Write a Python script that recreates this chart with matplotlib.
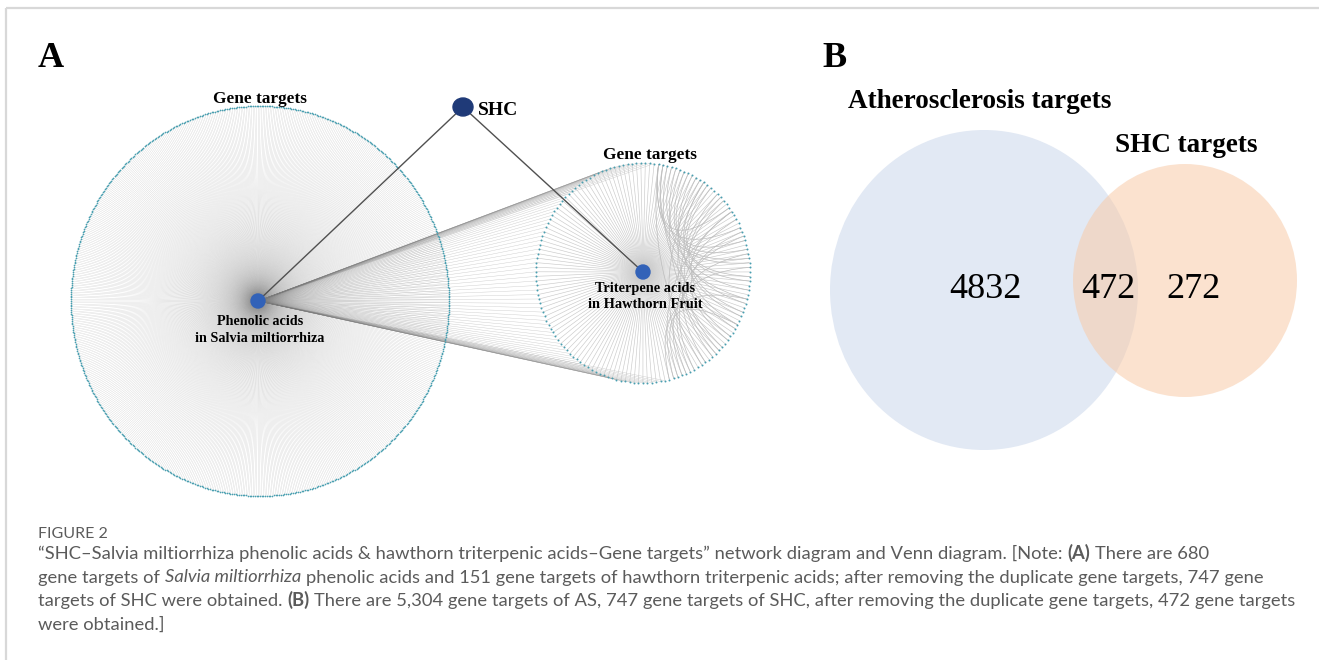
import numpy as np
import matplotlib.pyplot as plt
from matplotlib.collections import LineCollection, PathCollection
from matplotlib.patches import Ellipse
from matplotlib.path import Path

# target counts
n_phenolic = 680      # Salvia miltiorrhiza phenolic acids
n_triterpene = 151    # hawthorn triterpenic acids
n_shc = 747           # SHC targets after removing duplicates
n_as = 5304           # atherosclerosis targets
n_common = 472        # AS / SHC intersection

# Venn region labels (AS only, both, SHC only)
venn_counts = [4832, 472, 272]
venn_titles = ["Atherosclerosis targets", "SHC targets"]

# curved target-target edges on the hawthorn ring (indices of its targets)
ring_edges = [(85, 130), (88, 140), (90, 120), (92, 150), (95, 135), (98, 145),
              (100, 125), (103, 148), (106, 138), (84, 110), (109, 142),
              (112, 146), (115, 137), (118, 150), (121, 144), (87, 117),
              (93, 128), (97, 133), (101, 141), (104, 130), (110, 149),
              (114, 139), (119, 147), (123, 143), (126, 150), (89, 124),
              (96, 139), (107, 134), (86, 104), (131, 149)]

W, H = 1319, 660
fig = plt.figure(figsize=(W / 100, H / 100), dpi=100)
ax = fig.add_axes([0, 0, 1, 1])
ax.set_xlim(0, W)
ax.set_ylim(H, 0)
ax.axis('off')

serif = 'Liberation Serif'


def ring(cx, cy, rx, ry, n, start):
    a = np.deg2rad(start + 360.0 * np.arange(n) / n)
    return np.column_stack([cx + rx * np.cos(a), cy - ry * np.sin(a)])


# panel frame (top and left rule)
ax.plot([6, W], [7.5, 7.5], color='#d8d8d8', lw=1.6, solid_capstyle='butt')
ax.plot([6, 6], [7.5, H], color='#d8d8d8', lw=1.6, solid_capstyle='butt')

# ---- A: network ----
phen = np.array([258.0, 301.0])
trit = np.array([643.0, 272.0])
shc = np.array([463.0, 107.0])

big = ring(260, 301, 189, 195, n_phenolic, -90)
small = ring(643, 273, 107, 110, n_triterpene, 84)
n_shared = n_phenolic + n_triterpene - n_shc

# phenolic acids -> its own targets
ax.add_collection(LineCollection([[phen, p] for p in big],
                                 colors='#8c8c8c', linewidths=0.22, alpha=0.45, zorder=1))
# phenolic acids -> targets shared with hawthorn
ax.add_collection(LineCollection([[phen, p] for p in small[:n_shared]],
                                 colors='#7a7a7a', linewidths=0.3, alpha=0.4, zorder=1))
# triterpene acids -> targets
ax.add_collection(LineCollection([[trit, p] for p in small],
                                 colors='#cacaca', linewidths=0.45, zorder=1))

# curved edges between hawthorn targets
c0 = np.array([643.0, 273.0])
curves = []
for i, j in ring_edges:
    a, b = small[i], small[j]
    ctrl = c0 + 0.05 * ((a + b) / 2 - c0)
    curves.append(Path([a, ctrl, b], [Path.MOVETO, Path.CURVE3, Path.CURVE3]))
ax.add_collection(PathCollection(curves, facecolors='none', edgecolors='#bdbdbd',
                                 linewidths=0.5, zorder=1))

# gene target nodes
ax.scatter(big[:, 0], big[:, 1], s=1.5, color='#4a9fb0', linewidths=0, zorder=2)
ax.scatter(small[:, 0], small[:, 1], s=2.0, color='#4a9fb0', linewidths=0, zorder=2)

# SHC edges
ax.plot([shc[0], phen[0]], [shc[1], phen[1]], color='#505050', lw=1.0, zorder=3)
ax.plot([shc[0], trit[0]], [shc[1], trit[1]], color='#505050', lw=1.0, zorder=3)

ax.add_patch(Ellipse(shc, 20, 18, color='#1f3a78', zorder=4))
ax.add_patch(Ellipse(phen, 14, 14, color='#3262b8', zorder=4))
ax.add_patch(Ellipse(trit, 14, 14, color='#3262b8', zorder=4))

ax.text(38, 67, 'A', fontsize=26, fontweight='bold', family=serif, va='baseline')
ax.text(260, 103, 'Gene targets', fontsize=12.4, fontweight='bold', family=serif,
        ha='center', va='baseline')
ax.text(650, 159, 'Gene targets', fontsize=12.4, fontweight='bold', family=serif,
        ha='center', va='baseline')
ax.text(478, 115, 'SHC', fontsize=14, fontweight='bold', family=serif, va='baseline')
ax.text(260, 325, 'Phenolic acids', fontsize=10.2, fontweight='bold', family=serif,
        ha='center', va='baseline')
ax.text(260, 342, 'in Salvia miltiorrhiza', fontsize=10.2, fontweight='bold', family=serif,
        ha='center', va='baseline')
ax.text(645, 292, 'Triterpene acids', fontsize=10.4, fontweight='bold', family=serif,
        ha='center', va='baseline')
ax.text(645, 308, 'in Hawthorn Fruit', fontsize=10.4, fontweight='bold', family=serif,
        ha='center', va='baseline')

# ---- B: Venn diagram ----
ax.add_patch(Ellipse((984, 290), 308, 320, facecolor='#e2e9f4', edgecolor='none', zorder=1))
ax.add_patch(Ellipse((1185, 280.5), 224, 233, facecolor='#f8cba9', edgecolor='none',
                     alpha=0.55, zorder=2))

ax.text(822, 67, 'B', fontsize=26, fontweight='bold', family=serif, va='baseline')
ax.text(980, 108, venn_titles[0], fontsize=19.5, fontweight='bold', family=serif,
        ha='center', va='baseline')
ax.text(1186, 152, venn_titles[1], fontsize=19.5, fontweight='bold', family=serif,
        ha='center', va='baseline')
for x, v in zip([985, 1108, 1194], venn_counts):
    ax.text(x, 298, str(v), fontsize=26, family=serif, ha='center', va='baseline', zorder=3)

# ---- caption ----
cap = dict(family='Lato', color='#5b5b5b', fontsize=13.2)
styles = {'r': {}, 'b': {'fontweight': 'bold'}, 'i': {'style': 'italic'}}
renderer = fig.canvas.get_renderer()


def width(s, st):
    t = ax.text(0, 0, s, **cap, **styles[st])
    w = t.get_window_extent(renderer=renderer).width
    t.remove()
    return w


def runs_line(x, y, runs):
    sp = width('x x', 'r') - width('xx', 'r')
    for k, (s, st) in enumerate(runs):
        ax.text(x, y, s, va='baseline', ha='left', **cap, **styles[st])
        x += width(s, st) + (sp if k < len(runs) - 1 else 0)


ax.text(38, 538, 'FIGURE 2', family='Lato', color='#5b5b5b', fontsize=11.5,
        va='baseline')
runs_line(38, 559, [
    ('\u201cSHC\u2013Salvia miltiorrhiza phenolic acids & hawthorn triterpenic acids\u2013Gene '
     'targets\u201d network diagram and Venn diagram. [Note:', 'r'),
    ('(A)', 'b'), (f'There are {n_phenolic}', 'r')])
runs_line(38, 582.5, [
    ('gene targets of', 'r'), ('Salvia miltiorrhiza', 'i'),
    (f'phenolic acids and {n_triterpene} gene targets of hawthorn triterpenic acids; '
     f'after removing the duplicate gene targets, {n_shc} gene', 'r')])
runs_line(38, 606, [
    ('targets of SHC were obtained.', 'r'), ('(B)', 'b'),
    (f'There are {n_as:,} gene targets of AS, {n_shc} gene targets of SHC, after removing '
     f'the duplicate gene targets, {n_common} gene targets', 'r')])
runs_line(38, 629.5, [('were obtained.]', 'r')])

fig.savefig('out.png', dpi=100)
